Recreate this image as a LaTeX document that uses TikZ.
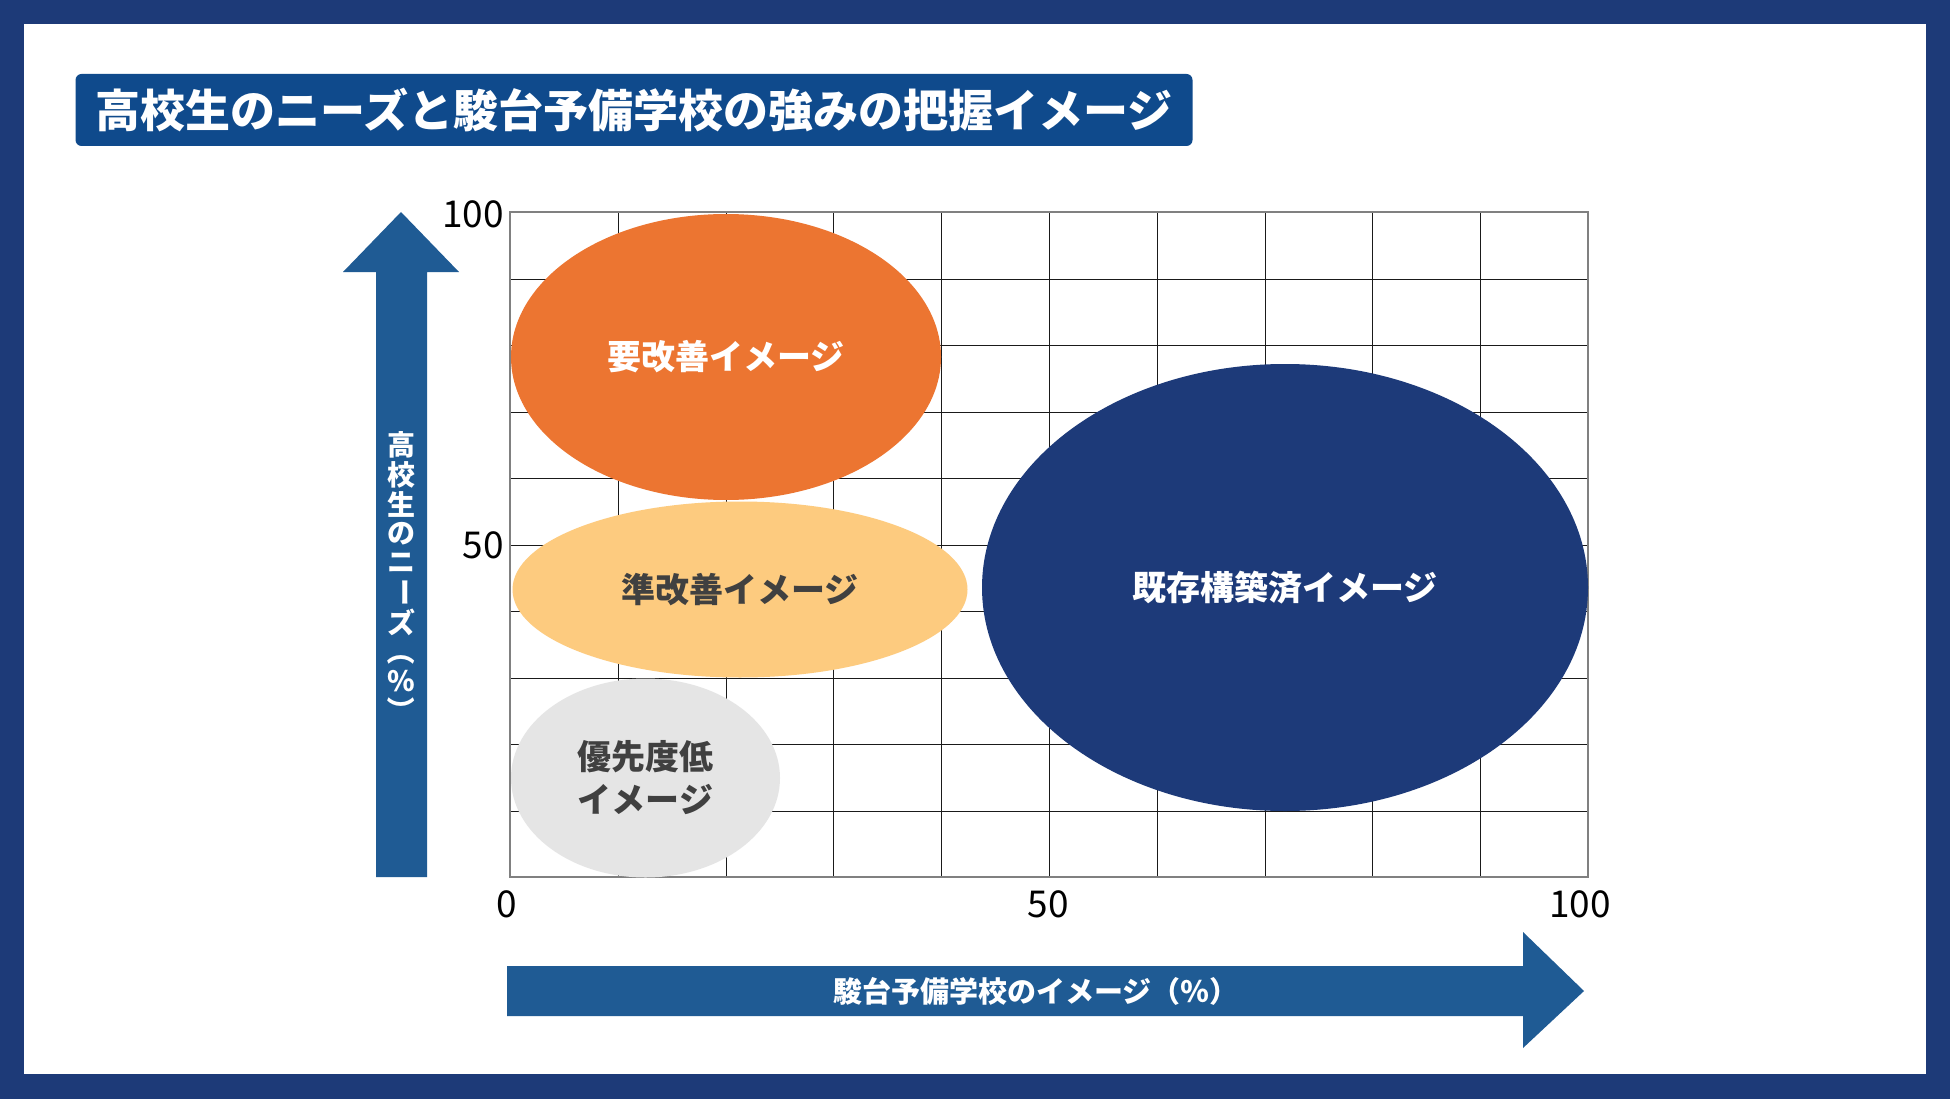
\documentclass[tikz,border=0pt]{standalone}
\usepackage{fontspec}
\setmainfont{Noto Sans CJK JP}
\usetikzlibrary{shapes.geometric}
\definecolor{framenavy}{HTML}{1D3A78}
\definecolor{titleblue}{HTML}{0F4A8C}
\definecolor{arrowblue}{HTML}{1F5B94}
\definecolor{orangeA}{HTML}{EC7531}
\definecolor{orangeB}{HTML}{FDCB7F}
\definecolor{grayC}{HTML}{E5E5E5}
\definecolor{navyD}{HTML}{1D3A79}
\definecolor{darktext}{HTML}{404040}
\definecolor{gridc}{HTML}{1A1A1A}
\tikzset{
  gridline/.style={draw=gridc, line width=1.5pt},
  gridframe/.style={draw=black!50, line width=2pt},
  blob/.style={ellipse, inner sep=0pt, outer sep=0pt, align=center,
    font=\bfseries\fontsize{34}{38}\selectfont},
  ticklabel/.style={font=\fontsize{37}{40}\selectfont, text=black, inner sep=0pt},
  vchar/.style={font=\bfseries\fontsize{28}{30}\selectfont, text=white, inner sep=0pt},
  axistext/.style={font=\bfseries\fontsize{29}{32}\selectfont, text=white, inner sep=0pt},
}
\begin{document}
\begin{tikzpicture}[x=1pt,y=-1pt]
\useasboundingbox (0,0) rectangle (1950,1099);
\fill[framenavy] (0,0) rectangle (1950,1099);
\fill[white] (24,24) rectangle (1926,1074);
% title
\node[fill=titleblue, rounded corners=6pt, minimum width=1117pt, minimum height=72pt,
  inner sep=0pt, text=white, font=\bfseries\fontsize{45}{50}\selectfont] (title) at (634,110)
  {高校生のニーズと駿台予備学校の強みの把握イメージ};
% grid
\foreach \i in {1,...,9} \draw[gridline] ({510.5+round(107.8*\i)},212) -- ({510.5+round(107.8*\i)},877);
\foreach \j in {1,...,9} \draw[gridline] (510,{212.5+round(66.5*\j)}) -- (1588,{212.5+round(66.5*\j)});
\draw[gridframe] (510,212) rectangle (1588,877);
% ellipses
\node[blob, fill=orangeA, text=white, minimum width=430pt, minimum height=286pt] (need) at (726,357) {要改善イメージ};
\node[blob, fill=orangeB, text=darktext, minimum width=455pt, minimum height=176pt] (semi) at (740,589.5) {準改善イメージ};
\node[blob, fill=grayC, text=darktext, minimum width=269pt, minimum height=199pt] (low) at (645.5,778) {優先度低\\[5pt]イメージ};
\node[blob, fill=navyD, text=white, minimum width=606pt, minimum height=447pt] (built) at (1285,587.5) {既存構築済イメージ};
% tick labels
\node[ticklabel, anchor=east] (y100) at (504,214) {100};
\node[ticklabel, anchor=east] (y50) at (504,545) {50};
\node[ticklabel] (x0) at (507,904) {0};
\node[ticklabel] (x50) at (1048,904) {50};
\node[ticklabel] (x100) at (1580,904) {100};
% vertical arrow
\fill[arrowblue] (376,877) -- (376,272) -- (343,272) -- (401,212) -- (459,272) -- (427,272) -- (427,877) -- cycle;
\foreach \ch/\rot [count=\i] in {高/0,校/0,生/0,の/0,ニ/0,ー/-90,ズ/0,（/-90,\%/0,）/-90}
  \node[vchar, rotate=\rot] (v\i) at (401.5,{445+29.5*(\i-1)}) {\ch};
% horizontal arrow
\fill[arrowblue] (507,966) -- (1523,966) -- (1523,932) -- (1584,991) -- (1523,1048) -- (1523,1016) -- (507,1016) -- cycle;
\node[axistext] (xlabel) at (1036,991) {駿台予備学校のイメージ（％）};
\end{tikzpicture}
\end{document}
